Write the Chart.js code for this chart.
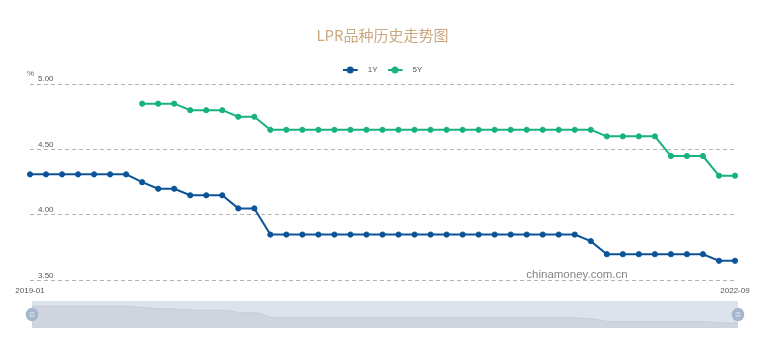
<!DOCTYPE html>
<html>
<head>
<meta charset="utf-8">
<script src="https://cdn.jsdelivr.net/npm/chart.js@4.4.1/dist/chart.umd.min.js"></script>
<style>
  html, body { margin: 0; padding: 0; background: #fff; overflow: hidden; }
  #wrap { position: relative; width: 760px; height: 344px; }
  #main { position: absolute; left: 0; top: 0; }
  #zoom { position: absolute; left: 0; top: 295px; }
</style>
</head>
<body>
<div id="wrap">
  <canvas id="main" width="760" height="344"></canvas>
  <canvas id="zoom" width="760" height="40"></canvas>
</div>
<script>
const months = [
  '2019-01','2019-02','2019-03','2019-04','2019-05','2019-06','2019-07','2019-08','2019-09','2019-10','2019-11','2019-12',
  '2020-01','2020-02','2020-03','2020-04','2020-05','2020-06','2020-07','2020-08','2020-09','2020-10','2020-11','2020-12',
  '2021-01','2021-02','2021-03','2021-04','2021-05','2021-06','2021-07','2021-08','2021-09','2021-10','2021-11','2021-12',
  '2022-01','2022-02','2022-03','2022-04','2022-05','2022-06','2022-07','2022-08','2022-09'
];
const lpr1Y = [
  4.31,4.31,4.31,4.31,4.31,4.31,4.31,4.25,4.20,4.20,4.15,4.15,
  4.15,4.05,4.05,3.85,3.85,3.85,3.85,3.85,3.85,3.85,3.85,3.85,
  3.85,3.85,3.85,3.85,3.85,3.85,3.85,3.85,3.85,3.85,3.85,3.80,
  3.70,3.70,3.70,3.70,3.70,3.70,3.70,3.65,3.65
];
const lpr5Y = [
  null,null,null,null,null,null,null,4.85,4.85,4.85,4.80,4.80,
  4.80,4.75,4.75,4.65,4.65,4.65,4.65,4.65,4.65,4.65,4.65,4.65,
  4.65,4.65,4.65,4.65,4.65,4.65,4.65,4.65,4.65,4.65,4.65,4.65,
  4.60,4.60,4.60,4.60,4.45,4.45,4.45,4.30,4.30
];
const seriesNames = ['1Y', '5Y'];
const yTicks = [3.5, 4.0, 4.5, 5.0];
const titleText = 'LPR品种历史走势图';
const unitText = '%';
const watermarkText = 'chinamoney.com.cn';

const C1 = '#0b5497';
const C2 = '#17b37a';

function legendIcon(color) {
  const c = document.createElement('canvas');
  c.width = 21; c.height = 8;
  const g = c.getContext('2d');
  g.strokeStyle = color; g.lineWidth = 2;
  g.beginPath(); g.moveTo(0, 4); g.lineTo(15, 4); g.stroke();
  g.fillStyle = color;
  g.beginPath(); g.arc(7.5, 4, 3.5, 0, Math.PI * 2); g.fill();
  return c;
}
const icons = [legendIcon(C1), legendIcon(C2)];

Chart.defaults.font.family = '"Liberation Sans", Arial, sans-serif';

const extras = {
  id: 'extras',
  afterDraw(chart) {
    const ctx = chart.ctx, a = chart.chartArea;
    ctx.save();
    ctx.fillStyle = '#666';
    ctx.font = '8px "Liberation Sans", Arial, sans-serif';
    ctx.textAlign = 'left';
    ctx.textBaseline = 'middle';
    ctx.fillText(unitText, a.left - 3, a.top - 10);
    ctx.fillStyle = '#858585';
    ctx.font = '11.5px "Liberation Sans", Arial, sans-serif';
    ctx.textAlign = 'center';
    ctx.textBaseline = 'alphabetic';
    ctx.fillText(watermarkText, 577, 278);
    ctx.restore();
  }
};

new Chart(document.getElementById('main'), {
  type: 'line',
  data: {
    labels: months,
    datasets: [
      { label: seriesNames[0], data: lpr1Y, borderColor: C1, backgroundColor: C1,
        pointBackgroundColor: C1, pointBorderColor: C1, borderWidth: 2, pointRadius: 2.6,
        pointBorderWidth: 1, tension: 0, fill: false },
      { label: seriesNames[1], data: lpr5Y, borderColor: C2, backgroundColor: C2,
        pointBackgroundColor: C2, pointBorderColor: C2, borderWidth: 2, pointRadius: 2.6,
        pointBorderWidth: 1, tension: 0, fill: false }
    ]
  },
  options: {
    responsive: false,
    animation: false,
    layout: { padding: { left: 30, right: 25, top: 0, bottom: 42 } },
    scales: {
      x: {
        type: 'category',
        offset: false,
        grid: { display: false, drawTicks: false },
        border: { display: false },
        ticks: {
          autoSkip: false, maxRotation: 0, minRotation: 0, padding: 6,
          color: '#555', font: { size: 8 },
          callback: (v, i) => (i === 0 || i === months.length - 1) ? months[i] : ''
        }
      },
      y: {
        min: yTicks[0], max: yTicks[yTicks.length - 1],
        afterBuildTicks: (s) => { s.ticks = yTicks.map(v => ({ value: v })); },
        afterFit: (s) => { s.width = 0; },
        grid: { color: '#b4b4b4', lineWidth: 1, drawTicks: false },
        border: { display: false, dash: [4, 3] },
        ticks: {
          mirror: true, padding: 8, labelOffset: -5,
          color: '#555', font: { size: 8 },
          callback: (v) => Number(v).toFixed(2)
        }
      }
    },
    plugins: {
      title: {
        display: true, text: titleText, color: '#cba77f',
        font: { family: '"Noto Sans CJK SC", sans-serif', size: 15, weight: 'normal' },
        padding: { top: 26.5, bottom: 11.5 }
      },
      legend: {
        display: true,
        labels: {
          usePointStyle: true, pointStyleWidth: 21, padding: 10,
          color: '#555', font: { size: 8 },
          generateLabels: (chart) => {
            const items = Chart.defaults.plugins.legend.labels.generateLabels(chart);
            items.forEach((it, i) => { it.pointStyle = icons[i]; });
            return items;
          }
        }
      },
      tooltip: { enabled: false }
    }
  },
  plugins: [extras]
});

// data-zoom slider (shadow of the 1Y series)
const shadowMin = Math.min(...lpr1Y), shadowMax = Math.max(...lpr1Y);
const shadowPad = (shadowMax - shadowMin) * 0.3;

const sliderDeco = {
  id: 'sliderDeco',
  beforeDatasetsDraw(chart) {
    const ctx = chart.ctx, a = chart.chartArea;
    ctx.save();
    ctx.fillStyle = '#dde3ec';
    ctx.fillRect(a.left, a.top, a.right - a.left, a.bottom - a.top);
    ctx.restore();
  },
  afterDraw(chart) {
    const ctx = chart.ctx, a = chart.chartArea;
    const cy = (a.top + a.bottom) / 2;
    [a.left, a.right].forEach(cx => {
      ctx.save();
      ctx.fillStyle = '#a6b6cc';
      ctx.beginPath();
      ctx.ellipse(cx, cy, 6.3, 6.8, 0, 0, Math.PI * 2);
      ctx.fill();
      ctx.strokeStyle = '#e8edf4';
      ctx.lineWidth = 1;
      ctx.beginPath();
      ctx.moveTo(cx - 2.5, cy - 1.5); ctx.lineTo(cx + 2.5, cy - 1.5);
      ctx.moveTo(cx - 2.5, cy + 1.5); ctx.lineTo(cx + 2.5, cy + 1.5);
      ctx.stroke();
      ctx.restore();
    });
  }
};

new Chart(document.getElementById('zoom'), {
  type: 'line',
  data: {
    labels: months,
    datasets: [{
      data: lpr1Y, borderColor: '#c6cdd8', backgroundColor: '#ced5df',
      borderWidth: 1, pointRadius: 0, tension: 0, fill: 'start'
    }]
  },
  options: {
    responsive: false,
    animation: false,
    layout: { padding: { left: 32, right: 22, top: 6, bottom: 7 } },
    scales: {
      x: { display: false, offset: false },
      y: { display: false, min: shadowMin - shadowPad, max: shadowMax + shadowPad }
    },
    plugins: { legend: { display: false }, title: { display: false }, tooltip: { enabled: false } }
  },
  plugins: [sliderDeco]
});
</script>
</body>
</html>
